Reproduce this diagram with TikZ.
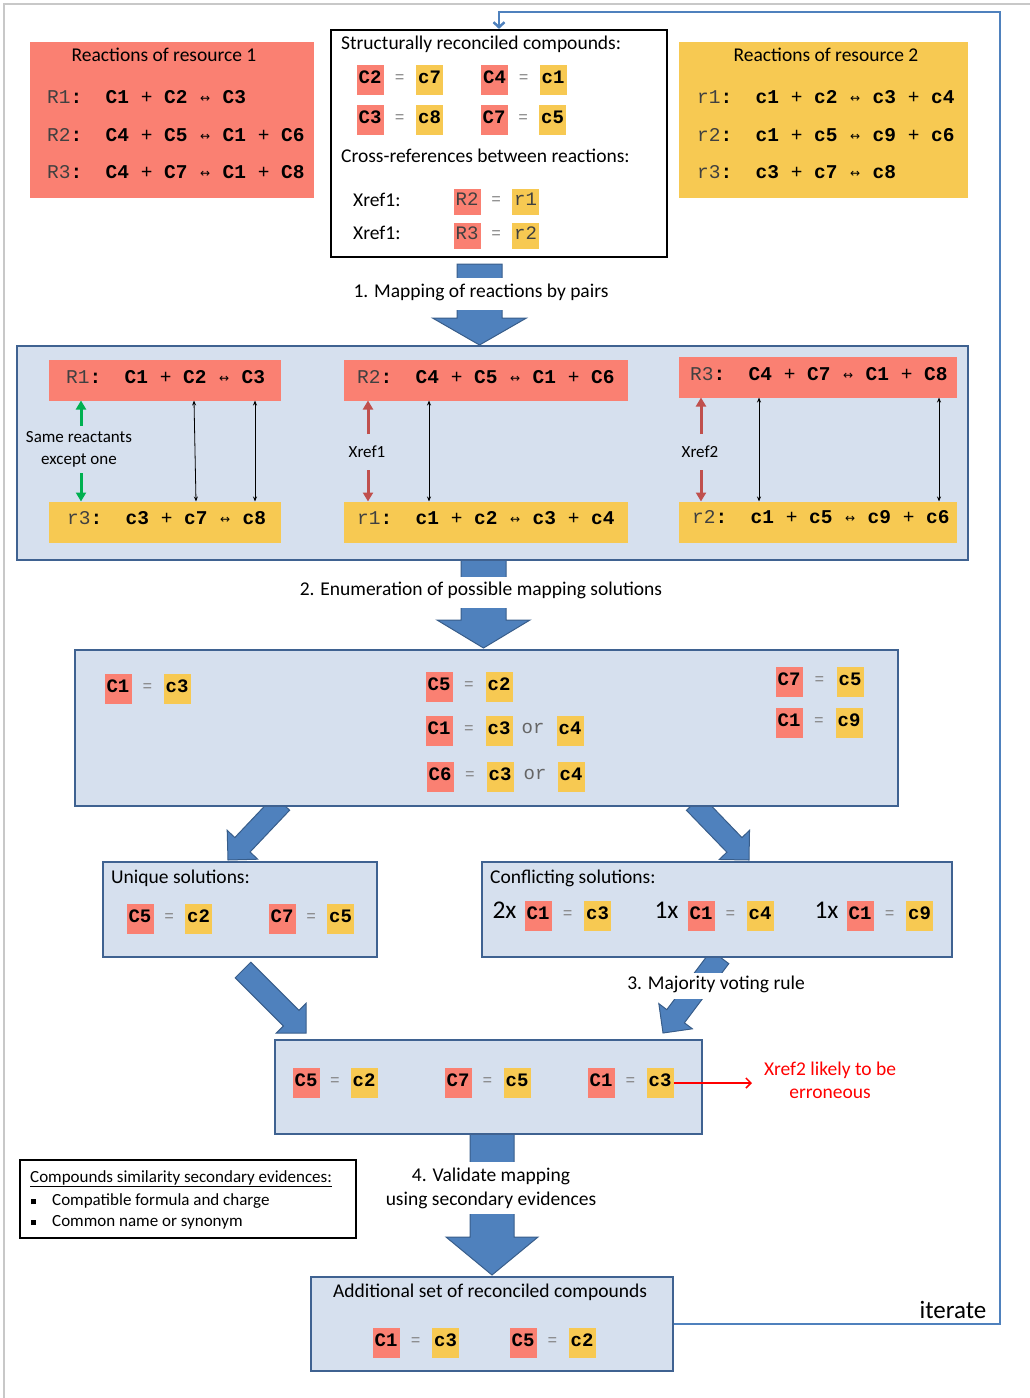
\documentclass[tikz,border=0pt]{standalone}
\usepackage{fontspec}
\setmainfont{Carlito}
\newfontfamily\mono{Liberation Mono}
\newfontfamily\dju{DejaVu Sans}
\usetikzlibrary{calc,arrows.meta}
\definecolor{salm}{RGB}{250,128,114}
\definecolor{yel}{RGB}{247,201,82}
\definecolor{lblue}{RGB}{214,224,238}
\definecolor{bordb}{RGB}{63,98,145}
\definecolor{arrb}{RGB}{79,129,189}
\definecolor{arrbd}{RGB}{56,93,138}
\definecolor{grn}{RGB}{0,176,80}
\definecolor{rdd}{RGB}{192,80,77}
\definecolor{lgray}{RGB}{200,200,200}
\newcommand\lr{\makebox[0.6em]{\raisebox{1pt}{\mdseries\dju\fontsize{12}{12}\selectfont ↔}}}
\newcommand\pl{{\mdseries +}}
\newcommand\rxn[2]{{\color{black!75}#1}\textbf{:}~~\textbf{#2}}
\newcommand\cpair[6]{%
  \node[tagR] (#1a) at (#2,#4) {#5};
  \node[tagY] (#1b) at (#3,#4) {#6};
  \node[eqs] (#1e) at ($(#1a)!0.5!(#1b)$) {=};}
\newcommand\barrow[4]{%
  \coordinate (#1n) at ($(#1h)!#4!(#1t)$);
  \draw[blk] ($(#1t)!#2!90:(#1h)$) -- ($(#1n)!#2!90:(#1h)$) -- ($(#1n)!#3!90:(#1h)$) -- (#1h)
    -- ($(#1n)!#3!-90:(#1h)$) -- ($(#1n)!#2!-90:(#1h)$) -- ($(#1t)!#2!-90:(#1h)$) -- cycle;}
\tikzset{
  ct/.style={inner sep=0, font=\fontsize{19.5}{23}\selectfont, text height=0.85em, text depth=0.18em},
  ctl/.style={ct, anchor=west},
  lab/.style={inner sep=0, font=\fontsize{17}{22}\selectfont, align=center},
  rx/.style={anchor=west, inner sep=0, font=\mono\fontsize{19.5}{20}\selectfont, text height=0.64em, text depth=0pt},
  tagR/.style={fill=salm, minimum width=27pt, minimum height=30pt, inner sep=0,
    font=\mono\bfseries\fontsize{19}{19}\selectfont, text height=0.62em, text depth=0pt},
  tagY/.style={tagR, fill=yel},
  xtagR/.style={tagR, minimum height=26pt, font=\mono\fontsize{19}{19}\selectfont, text=black!75},
  xtagY/.style={xtagR, fill=yel},
  eqs/.style={inner sep=0, font=\mono\fontsize{16}{16}\selectfont, text=black!50, text height=0.57em, text depth=0pt},
  ors/.style={eqs, font=\mono\fontsize{19}{19}\selectfont, text=black!60},
  bigx/.style={inner sep=0, font=\fontsize{25.5}{26}\selectfont, text height=0.63em, text depth=0pt},
  bbox/.style={draw=bordb, line width=2pt, fill=lblue, inner sep=0},
  bar/.style={inner sep=0, minimum height=41pt},
  blk/.style={fill=arrb, draw=arrbd, line width=1pt, line join=miter},
  wlab/.style={ct, fill=white, inner xsep=3pt, minimum height=32pt},
  link/.style={line width=0.8pt, {Stealth[length=5pt,width=4pt]}-{Stealth[length=5pt,width=4pt]}},
  garr/.style={grn, line width=3pt, -{Triangle[length=9pt,width=10pt]}},
  rarr/.style={rdd, line width=3pt, -{Triangle[length=9pt,width=10pt]}},
  fb/.style={draw=arrb, line width=2.5pt, -{Straight Barb[length=5pt,width=11pt]}},
}
\begin{document}
\begin{tikzpicture}[x=1pt,y=-1pt]
\useasboundingbox (0,0) rectangle (1030,1398);
% frame
\coordinate (fa) at (4,1398); \coordinate (fbb) at (4,4); \coordinate (fc) at (1030,4);
\draw[lgray, line width=1.5pt] (fa) -- (fbb) -- (fc);

% block arrows
\coordinate (a1t) at (479.5,264); \coordinate (a1h) at (479.5,345);
\barrow{a1}{22.5pt}{47pt}{27pt}
\coordinate (a2t) at (483.5,558); \coordinate (a2h) at (483.5,648);
\barrow{a2}{22.5pt}{46.5pt}{28pt}
\coordinate (a3t) at (282,803); \coordinate (a3h) at (228,860);
\barrow{a3}{10.5pt}{21pt}{21pt}
\coordinate (a4t) at (694,803); \coordinate (a4h) at (749,860);
\barrow{a4}{10.5pt}{21pt}{21pt}
\coordinate (a5t) at (243,970); \coordinate (a5h) at (306,1033);
\barrow{a5}{11pt}{21pt}{21pt}
\coordinate (a6t) at (720,957); \coordinate (a6h) at (663,1033);
\barrow{a6}{11pt}{21pt}{21pt}
\coordinate (a7t) at (492,1132); \coordinate (a7h) at (492,1275);
\barrow{a7}{22pt}{46pt}{38pt}

% resource 1
\node[fill=salm, minimum width=284pt, minimum height=156pt, inner sep=0] (res1) at (172,120) {};
\node[ct] (res1t) at (164,58) {Reactions of resource 1};
\node[rx] (res1r1) at (47,100.5) {\rxn{R1}{C1~\pl~C2~\lr~C3}};
\node[rx] (res1r2) at (47,138) {\rxn{R2}{C4~\pl~C5~\lr~C1~\pl~C6}};
\node[rx] (res1r3) at (47,175.5) {\rxn{R3}{C4~\pl~C7~\lr~C1~\pl~C8}};
% resource 2
\node[fill=yel, minimum width=289pt, minimum height=156pt, inner sep=0] (res2) at (823.5,120) {};
\node[ct] (res2t) at (826,58) {Reactions of resource 2};
\node[rx] (res2r1) at (697,100.5) {\rxn{r1}{c1~\pl~c2~\lr~c3~\pl~c4}};
\node[rx] (res2r2) at (697,138) {\rxn{r2}{c1~\pl~c5~\lr~c9~\pl~c6}};
\node[rx] (res2r3) at (697,175.5) {\rxn{r3}{c3~\pl~c7~\lr~c8}};

% structurally reconciled
\node[draw=black, line width=2.2pt, fill=white, minimum width=336pt, minimum height=227pt, inner sep=0] (st) at (499,143.5) {};
\node[ctl] (stt) at (341,46) {Structurally reconciled compounds:};
\cpair{sp1}{370}{429.5}{80}{C2}{c7}
\cpair{sp2}{494.5}{553}{80}{C4}{c1}
\cpair{sp3}{370}{429.5}{120}{C3}{c8}
\cpair{sp4}{494}{552.5}{120}{C7}{c5}
\node[ctl] (stx) at (341,159) {Cross-references between reactions:};
\node[ctl] (x1l) at (353,203) {Xref1:};
\node[xtagR] (x1a) at (467,202) {R2};
\node[xtagY] (x1b) at (525.5,202) {r1};
\node[eqs] (x1e) at ($(x1a)!0.5!(x1b)$) {=};
\node[ctl] (x2l) at (353,236) {Xref1:};
\node[xtagR] (x2a) at (467,236) {R3};
\node[xtagY] (x2b) at (525.5,236) {r2};
\node[eqs] (x2e) at ($(x2a)!0.5!(x2b)$) {=};

% stage 1 box
\node[bbox, minimum width=951pt, minimum height=214pt] (b2) at (492.5,453) {};
\node[bar, fill=salm, minimum width=232pt] (bR1) at (165,380) {};
\node[rx] (tR1) at (66,380.5) {\rxn{R1}{C1~\pl~C2~\lr~C3}};
\node[bar, fill=yel, minimum width=232pt] (br3) at (165,522) {};
\node[rx] (tr3) at (67,521) {\rxn{r3}{c3~\pl~c7~\lr~c8}};
\node[bar, fill=salm, minimum width=284pt] (bR2) at (486,380) {};
\node[rx] (tR2) at (357,380.5) {\rxn{R2}{C4~\pl~C5~\lr~C1~\pl~C6}};
\node[bar, fill=yel, minimum width=284pt] (br1) at (486,522) {};
\node[rx] (tr1) at (357,521) {\rxn{r1}{c1~\pl~c2~\lr~c3~\pl~c4}};
\node[bar, fill=salm, minimum width=278pt] (bR3) at (818,377) {};
\node[rx] (tR3) at (690,377.5) {\rxn{R3}{C4~\pl~C7~\lr~C1~\pl~C8}};
\node[bar, fill=yel, minimum width=278pt] (br2) at (818,522) {};
\node[rx] (tr2) at (692,520.5) {\rxn{r2}{c1~\pl~c5~\lr~c9~\pl~c6}};
% links
\coordinate (k1t) at (194,400.5); \coordinate (k1b) at (196,501.5);
\coordinate (k2t) at (255,400.5); \coordinate (k2b) at (255,501.5);
\coordinate (k3t) at (429,400.5); \coordinate (k3b) at (429,501.5);
\coordinate (k4t) at (759,397.5); \coordinate (k4b) at (759,501.5);
\coordinate (k5t) at (939,397.5); \coordinate (k5b) at (939,501.5);
\draw[link] (k1t) -- (k1b);
\draw[link] (k2t) -- (k2b);
\draw[link] (k3t) -- (k3b);
\draw[link] (k4t) -- (k4b);
\draw[link] (k5t) -- (k5b);
\node[lab] (same) at (79,449) {Same reactants\\except one};
\coordinate (g1s) at (81,426); \coordinate (g1e) at (81,400.5);
\coordinate (g2s) at (81,473); \coordinate (g2e) at (81,501.5);
\draw[garr] (g1s) -- (g1e);
\draw[garr] (g2s) -- (g2e);
\node[lab] (xr1) at (367,452) {Xref1};
\coordinate (r1s) at (368,434); \coordinate (r1e) at (368,400.5);
\coordinate (r2s) at (368,470); \coordinate (r2e) at (368,501.5);
\draw[rarr] (r1s) -- (r1e);
\draw[rarr] (r2s) -- (r2e);
\node[lab] (xr2) at (700,452) {Xref2};
\coordinate (r3s) at (701,434); \coordinate (r3e) at (701,397.5);
\coordinate (r4s) at (701,470); \coordinate (r4e) at (701,501.5);
\draw[rarr] (r3s) -- (r3e);
\draw[rarr] (r4s) -- (r4e);

% stage 2 box
\node[bbox, minimum width=823pt, minimum height=156pt] (b3) at (486.5,728) {};
\cpair{q1}{118}{177}{689}{C1}{c3}
\cpair{q2}{439}{499}{687}{C5}{c2}
\cpair{q3}{439}{499}{731}{C1}{c3}
\node[ors] (q3o) at (533,731) {or};
\node[tagY] (q3c) at (570,731) {c4};
\cpair{q4}{440}{500}{777}{C6}{c3}
\node[ors] (q4o) at (535,777) {or};
\node[tagY] (q4c) at (571,777) {c4};
\cpair{q5}{789}{850}{682}{C7}{c5}
\cpair{q6}{789}{849}{723}{C1}{c9}

% unique / conflicting
\node[bbox, minimum width=274pt, minimum height=95pt] (uq) at (240,909.5) {};
\node[ctl] (uqt) at (111,880) {Unique solutions:};
\cpair{u1}{140}{198.5}{919}{C5}{c2}
\cpair{u2}{282}{340.5}{919}{C7}{c5}
\node[bbox, minimum width=470pt, minimum height=95pt] (cf) at (717,909.5) {};
\node[ctl] (cft) at (490,880) {Conflicting solutions:};
\node[bigx] (cf2x) at (504.5,915) {2x};
\cpair{v1}{538}{597.5}{916}{C1}{c3}
\node[bigx] (cf1x) at (666.5,915) {1x};
\cpair{v2}{701}{760}{916}{C1}{c4}
\node[bigx] (cf1y) at (826.5,915) {1x};
\cpair{v3}{860}{919.5}{916}{C1}{c9}

% result
\node[bbox, minimum width=427pt, minimum height=94pt] (rs) at (488.5,1087) {};
\cpair{w1}{306}{364}{1083}{C5}{c2}
\cpair{w2}{458}{517}{1083}{C7}{c5}
\cpair{w3}{601}{660}{1083}{C1}{c3}
\coordinate (xerr) at (752,1083);
\draw[red, line width=1.5pt, -{Straight Barb[length=5pt,width=10pt]}] (w3b.east) -- (xerr);
\node[lab, text=red, font=\fontsize{19.5}{23}\selectfont] (errt) at (830,1080.5) {Xref2 likely to be\\erroneous};

% evidences
\node[draw=black, line width=2pt, fill=white, minimum width=336pt, minimum height=78pt, inner sep=0] (ev) at (188,1199) {};
\node[anchor=west, inner sep=0, font=\fontsize{17}{18}\selectfont] (ev1) at (30,1179) {\underline{Compounds similarity secondary evidences:}};
\node[anchor=west, inner sep=0, font=\fontsize{17}{18}\selectfont] (ev2) at (31,1201) {\makebox[21pt][l]{\rule[1pt]{4.5pt}{5pt}}Compatible formula and charge};
\node[anchor=west, inner sep=0, font=\fontsize{17}{18}\selectfont] (ev3) at (31,1222) {\makebox[21pt][l]{\rule[1pt]{4.5pt}{5pt}}Common name or synonym};

% final
\node[bbox, minimum width=362pt, minimum height=94pt] (fin) at (492,1324) {};
\node[ct] (fint) at (490,1294) {Additional set of reconciled compounds};
\cpair{f1}{386}{445.5}{1343}{C1}{c3}
\cpair{f2}{523}{582}{1343}{C5}{c2}

% arrow labels
\node[wlab] (l1) at (481,294) {1. Mapping of reactions by pairs};
\node[wlab, minimum height=31pt] (l2) at (481,592.5) {2. Enumeration of possible mapping solutions};
\node[wlab, minimum height=26pt] (l3) at (716,986) {3. Majority voting rule};
\node[lab, fill=white, inner xsep=3pt, inner ysep=0pt, minimum height=52pt, font=\fontsize{19.5}{24}\selectfont] (l4) at (491,1188) {4. Validate mapping\\using secondary evidences};

% iterate feedback
\coordinate (it2) at (1000,12);
\draw[fb] (fin.east) -| (it2) -| (st.north);
\node[inner sep=0, font=\fontsize{25}{25}\selectfont] (itl) at (953,1310) {iterate};
\end{tikzpicture}
\end{document}
